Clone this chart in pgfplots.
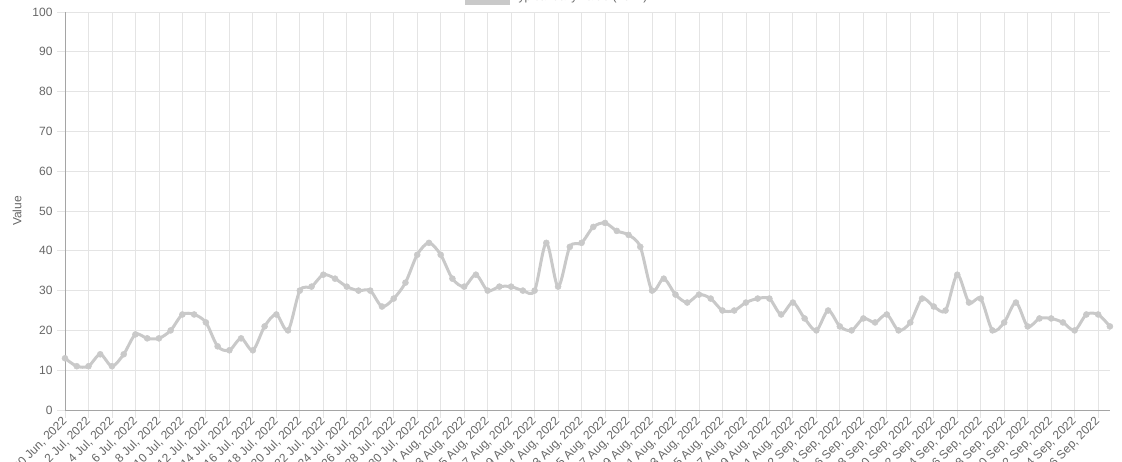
\documentclass[border=0pt]{standalone}
\usepackage{fontspec}
\setmainfont{Liberation Sans}
\usepackage{pgfplots}
\pgfplotsset{compat=1.18}
\definecolor{linegray}{RGB}{201,201,201}
\definecolor{gridgray}{RGB}{228,228,228}
\definecolor{axisgray}{RGB}{165,165,165}
\definecolor{textgray}{RGB}{102,102,102}
\begin{document}
\begin{tikzpicture}[x=1pt,y=1pt]
\begin{axis}[
  at={(65pt,51pt)}, anchor=south west,
  scale only axis, width=1045pt, height=398pt,
  xmin=0, xmax=89, ymin=0, ymax=100,
  /pgf/number format/assume math mode=true,
  ytick={0,10,...,100},
  xtick={0,2,...,88},
  xticklabels={{30 Jun, 2022},{2 Jul, 2022},{4 Jul, 2022},{6 Jul, 2022},{8 Jul, 2022},{10 Jul, 2022},{12 Jul, 2022},{14 Jul, 2022},{16 Jul, 2022},{18 Jul, 2022},{20 Jul, 2022},{22 Jul, 2022},{24 Jul, 2022},{26 Jul, 2022},{28 Jul, 2022},{30 Jul, 2022},{1 Aug, 2022},{3 Aug, 2022},{5 Aug, 2022},{7 Aug, 2022},{9 Aug, 2022},{11 Aug, 2022},{13 Aug, 2022},{15 Aug, 2022},{17 Aug, 2022},{19 Aug, 2022},{21 Aug, 2022},{23 Aug, 2022},{25 Aug, 2022},{27 Aug, 2022},{29 Aug, 2022},{31 Aug, 2022},{2 Sep, 2022},{4 Sep, 2022},{6 Sep, 2022},{8 Sep, 2022},{10 Sep, 2022},{12 Sep, 2022},{14 Sep, 2022},{16 Sep, 2022},{18 Sep, 2022},{20 Sep, 2022},{22 Sep, 2022},{24 Sep, 2022},{26 Sep, 2022}},
  grid=major, major grid style={gridgray, line width=0.8pt},
  axis x line*=bottom, axis y line*=left,
  axis line style={axisgray, line width=0.9pt},
  tick align=outside, major tick length=8pt,
  major tick style={gridgray, line width=0.8pt},
  tick label style={font=\fontsize{12}{14}\selectfont, text=textgray},
  yticklabel style={xshift=-1pt},
  xticklabel style={rotate=45, anchor=east, inner sep=1pt, yshift=-1pt},
  every axis y label/.style={at={(axis description cs:0,0.5)}, xshift=-48pt, rotate=90, anchor=center,
    font=\fontsize{12}{14}\selectfont, text=textgray},
  ylabel={Value},
  legend style={at={(0.471,1)}, anchor=south, yshift=5pt, draw=none, fill=none,
    font=\fontsize{12}{14}\selectfont, text=textgray},
  legend image code/.code={\fill[linegray] (0pt,-6pt) rectangle (42pt,6pt);},
  clip=false,
]
\addplot[linegray, line width=3pt, smooth, tension=0.5, mark=*, mark size=3pt,
  mark options={fill=linegray, draw=linegray, line width=0.5pt}] coordinates {
(0,13) (1,11) (2,11) (3,14) (4,11) (5,14) (6,19) (7,18) (8,18) (9,20)
(10,24) (11,24) (12,22) (13,16) (14,15) (15,18) (16,15) (17,21) (18,24) (19,20)
(20,30) (21,31) (22,34) (23,33) (24,31) (25,30) (26,30) (27,26) (28,28) (29,32)
(30,39) (31,42) (32,39) (33,33) (34,31) (35,34) (36,30) (37,31) (38,31) (39,30)
(40,30) (41,42) (42,31) (43,41) (44,42) (45,46) (46,47) (47,45) (48,44) (49,41)
(50,30) (51,33) (52,29) (53,27) (54,29) (55,28) (56,25) (57,25) (58,27) (59,28)
(60,28) (61,24) (62,27) (63,23) (64,20) (65,25) (66,21) (67,20) (68,23) (69,22)
(70,24) (71,20) (72,22) (73,28) (74,26) (75,25) (76,34) (77,27) (78,28) (79,20)
(80,22) (81,27) (82,21) (83,23) (84,23) (85,22) (86,20) (87,24) (88,24) (89,21)
};
\addlegendentry{Typical daily value (2022)}
\end{axis}
\pgfresetboundingbox
\useasboundingbox (0,0) rectangle (1122,461);
\end{tikzpicture}
\end{document}
